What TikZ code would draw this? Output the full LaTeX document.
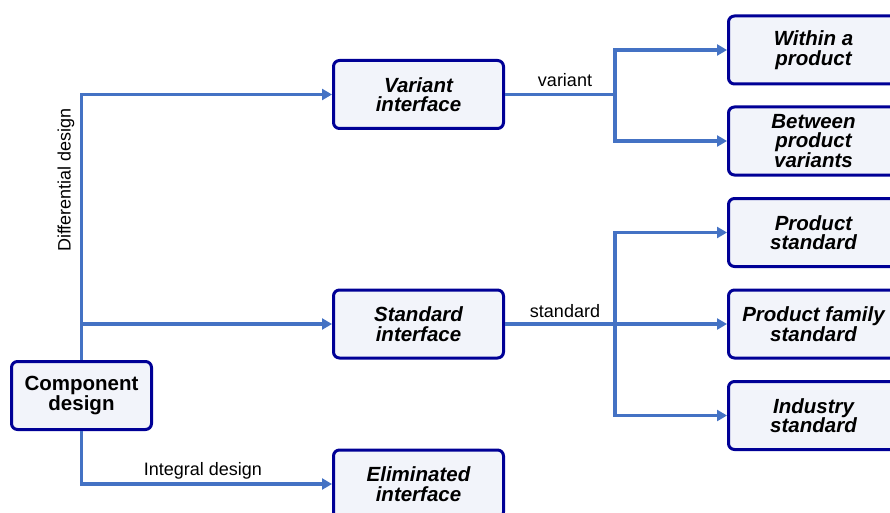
\documentclass[tikz,border=0pt]{standalone}
\usepackage{fontspec}
\setmainfont{Liberation Sans}
\usetikzlibrary{arrows.meta}
\definecolor{linkblue}{HTML}{4472C4}
\definecolor{boxnavy}{RGB}{0,0,150}
\definecolor{boxfill}{HTML}{F2F4FA}
\tikzset{
  box/.style={draw=boxnavy,line width=3pt,fill=boxfill,rounded corners=6pt,
    minimum width=170pt,minimum height=68pt,inner sep=2pt,align=center,
    font=\fontsize{20.5}{19.5}\selectfont\bfseries\itshape},
  link/.style={draw=linkblue,line width=3.5pt},
  lbl/.style={font=\fontsize{18}{20}\selectfont,inner sep=1pt}
}

\begin{document}
\begin{tikzpicture}[x=1pt,y=-1pt,>={Triangle[length=10pt,width=11pt]}]
  \useasboundingbox (0,0) rectangle (890,513);
  \clip (0,0) rectangle (890,513);
  % left column
  \node[box,minimum width=140pt,font=\fontsize{20.5}{19.5}\selectfont\bfseries] (comp) at (81.5,395.5) {Component\\design};
  % middle column
  \node[box] (var) at (418.5,94.5) {Variant\\interface};
  \node[box] (std) at (418.5,324) {Standard\\interface};
  \node[box] (elim) at (418.5,484) {Eliminated\\interface};
  % right column
  \node[box] (within) at (813.5,50) {Within a\\product};
  \node[box] (between) at (813.5,141) {Between\\product\\variants};
  \node[box] (prodstd) at (813.5,232.5) {Product\\standard};
  \node[box] (famstd) at (813.5,324) {Product family\\standard};
  \node[box] (indstd) at (813.5,415.5) {Industry\\standard};
  \coordinate (vsplit) at (615,94.5);
  \coordinate (ssplit) at (615,324);
  % connectors
  \draw[link,->] (comp.north) |- (var.west);
  \draw[link,->] (comp.north) |- (std.west);
  \draw[link,->] (comp.south) |- (elim.west);
  \draw[link] (var.east) -- (vsplit);
  \draw[link,->] (vsplit) |- (within.west);
  \draw[link,->] (vsplit) |- (between.west);
  \draw[link] (std.east) -- (ssplit);
  \draw[link,->] (ssplit) |- (prodstd.west);
  \draw[link,->] (ssplit) -- (famstd.west);
  \draw[link,->] (ssplit) |- (indstd.west);
  % labels
  \node[lbl,rotate=90] (difflbl) at (66,180) {Differential design};
  \node[lbl] (intlbl) at (203,471) {Integral design};
  \node[lbl] (varlbl) at (565,80) {variant};
  \node[lbl] (stdlbl) at (565,311) {standard};
\end{tikzpicture}
\end{document}
